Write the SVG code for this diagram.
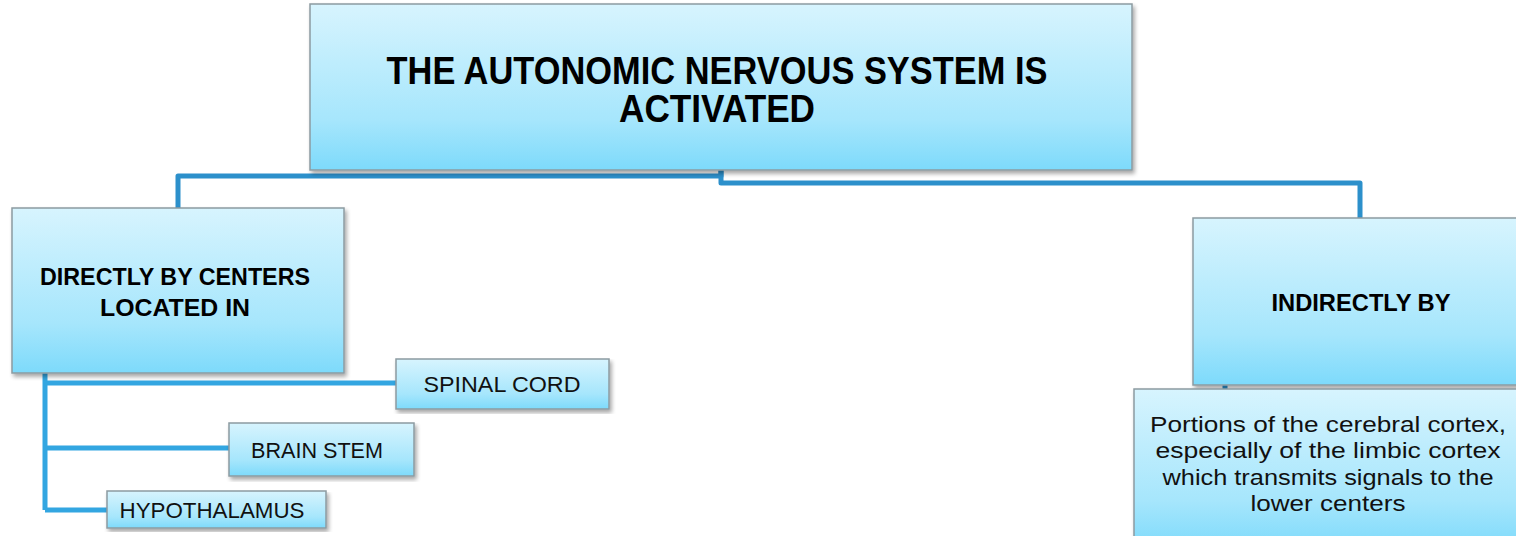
<svg xmlns="http://www.w3.org/2000/svg" width="1516" height="536" viewBox="0 0 1516 536">
<defs>
<linearGradient id="g" x1="0" y1="0" x2="0" y2="1">
<stop offset="0" stop-color="#D7F4FE"/>
<stop offset="0.7" stop-color="#A6E6FC"/>
<stop offset="1" stop-color="#7DDAFB"/>
</linearGradient>
<filter id="sh" x="-5%" y="-5%" width="110%" height="115%">
<feGaussianBlur in="SourceAlpha" stdDeviation="2"/>
<feOffset dx="2" dy="3" result="b"/>
<feComponentTransfer><feFuncA type="linear" slope="0.35"/></feComponentTransfer>
<feMerge><feMergeNode/><feMergeNode in="SourceGraphic"/></feMerge>
</filter>
</defs>
<style>
.box{fill:url(#g);stroke:#8C9BA1;stroke-width:1.5;filter:url(#sh)}
.c1{fill:none;stroke:#2C90CB;stroke-width:5;stroke-linejoin:round}
.c2{fill:none;stroke:#33A6E1;stroke-width:5;stroke-linejoin:round}
.b{font-family:"Liberation Sans",Arial,sans-serif;font-weight:bold;fill:#000;text-anchor:middle}
.r{font-family:"Liberation Sans",Arial,sans-serif;fill:#111;text-anchor:middle}
</style>
<g id="connectors">
<path class="c1" d="M721,170 V176 H178 V208"/>
<path class="c1" d="M721,170 V183 H1360 V218"/>
<path class="c2" d="M45,373 V510"/>
<path class="c2" d="M45,383 H396"/>
<path class="c2" d="M45,448 H229"/>
<path class="c2" d="M45,510 H107"/>
<path class="c1" d="M1225,385 V460 H1134"/>
</g>
<g id="top">
<rect class="box" x="310" y="4" width="822" height="166"/>
<text class="b" x="717" y="84" font-size="38" textLength="661" lengthAdjust="spacingAndGlyphs">THE AUTONOMIC NERVOUS SYSTEM IS</text>
<text class="b" x="717" y="122" font-size="38" textLength="196" lengthAdjust="spacingAndGlyphs">ACTIVATED</text>
</g>
<g id="direct">
<rect class="box" x="12" y="208" width="332" height="165"/>
<text class="b" x="175" y="285" font-size="24" textLength="270" lengthAdjust="spacingAndGlyphs">DIRECTLY BY CENTERS</text>
<text class="b" x="175" y="316" font-size="24" textLength="150" lengthAdjust="spacingAndGlyphs">LOCATED IN</text>
</g>
<g id="spinal">
<rect class="box" x="396" y="359" width="213" height="50"/>
<text class="r" x="502" y="392" font-size="22" textLength="157" lengthAdjust="spacingAndGlyphs">SPINAL CORD</text>
</g>
<g id="brainstem">
<rect class="box" x="229" y="423" width="185" height="53"/>
<text class="r" x="317" y="458" font-size="22" textLength="132" lengthAdjust="spacingAndGlyphs">BRAIN STEM</text>
</g>
<g id="hypothalamus">
<rect class="box" x="107" y="491" width="219" height="37"/>
<text class="r" x="212" y="518" font-size="22" textLength="185" lengthAdjust="spacingAndGlyphs">HYPOTHALAMUS</text>
</g>
<g id="indirect">
<rect class="box" x="1193" y="218" width="330" height="167"/>
<text class="b" x="1361" y="311" font-size="24" textLength="179" lengthAdjust="spacingAndGlyphs">INDIRECTLY BY</text>
</g>
<g id="cortex">
<rect class="box" x="1134" y="389" width="390" height="160"/>
<text class="r" x="1328" y="432" font-size="22" textLength="356" lengthAdjust="spacingAndGlyphs">Portions of the cerebral cortex,</text>
<text class="r" x="1328" y="458" font-size="22" textLength="345" lengthAdjust="spacingAndGlyphs">especially of the limbic cortex</text>
<text class="r" x="1328" y="485" font-size="22" textLength="331" lengthAdjust="spacingAndGlyphs">which transmits signals to the</text>
<text class="r" x="1328" y="511" font-size="22" textLength="155" lengthAdjust="spacingAndGlyphs">lower centers</text>
</g>
</svg>
